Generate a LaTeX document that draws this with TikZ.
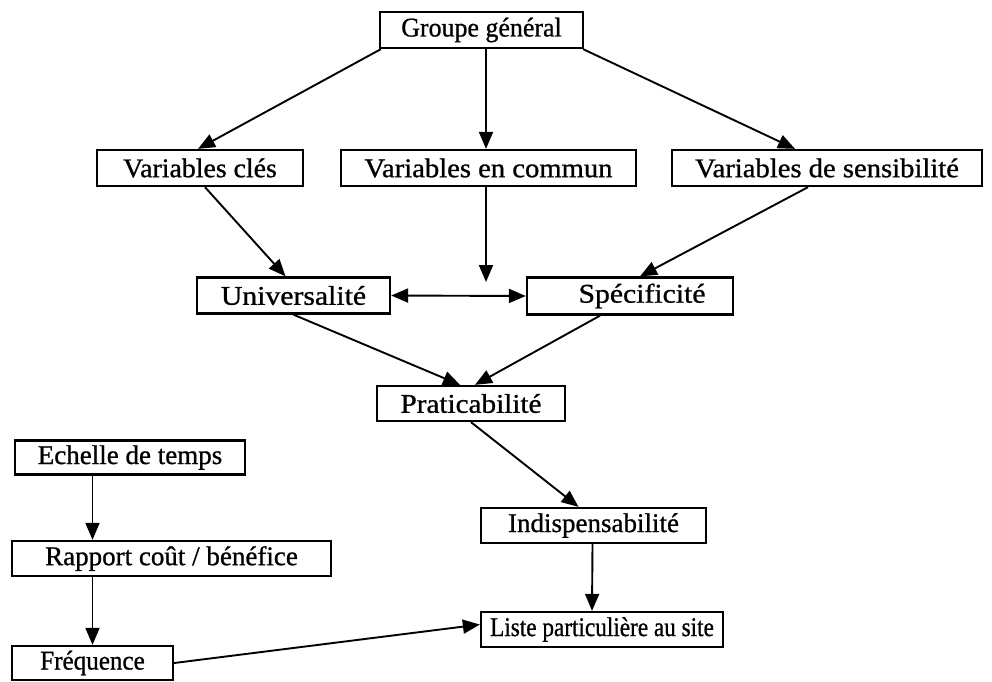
\documentclass[tikz,border=0pt]{standalone}
\usepackage{fontspec}
\setmainfont{Liberation Serif}[FakeBold=0.9]
\usetikzlibrary{arrows.meta}
% horizontal squeeze or stretch of a label
\newcommand{\hsq}[2]{\scalebox{#1}[1]{#2}}
\begin{document}
\begin{tikzpicture}[x=1pt,y=-1pt,
  box/.style={draw, line width=2.3pt, rectangle, inner sep=0pt,
    font=\fontsize{27}{30}\selectfont},
  tip/.tip={Triangle[length=17pt,width=14pt]},
  link/.style={line width=1.9pt, -tip},
  twoway/.style={line width=1.9pt, tip-tip}]
\useasboundingbox (0,0) rectangle (992,681);

% boxes: centre, width, height
\node[box, minimum width=203pt, minimum height=36pt] (g)   at (481.5,30)  {\hsq{0.96}{Groupe général}};
\node[box, minimum width=206pt, minimum height=36pt] (vc)  at (200,168)   {\hsq{1.03}{Variables clés}};
\node[box, minimum width=295pt, minimum height=36pt] (vm)  at (488.5,168) {\hsq{1.06}{Variables en commun}};
\node[box, minimum width=310pt, minimum height=36pt] (vs)  at (827,168)   {\hsq{1.06}{Variables de sensibilité}};
\node[box, minimum width=193pt, minimum height=36pt] (u)   at (293.5,295.5) {\hsq{1.1}{Universalité}};
\node[box, minimum width=206pt, minimum height=37pt] (s)   at (630,296)   {\hspace*{24pt}\hsq{1.1}{Spécificité}};
\node[box, minimum width=188pt, minimum height=35pt] (p)   at (471,403.5) {\hsq{1.08}{Praticabilité}};
\node[box, minimum width=230pt, minimum height=34pt] (e)   at (130,457.5) {Echelle de temps};
\node[box, minimum width=319pt, minimum height=35pt] (r)   at (171.5,558.5) {Rapport coût / bénéfice};
\node[box, minimum width=225pt, minimum height=35pt] (ind) at (593.5,525.5) {Indispensabilité};
\node[box, minimum width=242pt, minimum height=35pt] (l)   at (602,629.5) {\hsq{0.86}{Liste particulière au site}};
\node[box, minimum width=161pt, minimum height=34pt] (f)   at (92.5,663)  {\hsq{0.93}{Fréquence}};

% meeting point of the two middle branches
\coordinate (jt) at (486,282);

% connectors
\draw[link] ([xshift=2pt]g.south west) -- ([xshift=-2pt]vc.north);
\draw[link] ([xshift=4.5pt]g.south) -- ([xshift=-2.5pt]vm.north);
\draw[link] ([xshift=-1pt]g.south east) -- ([xshift=-32pt]vs.north);
\draw[link] ([xshift=5pt]vc.south) -- ([xshift=-8pt]u.north);
\draw[link] (vm.south -| jt) -- (jt);
\draw[twoway] (u.east) -- (s.west);
\draw[link] ([xshift=-19pt]vs.south) -- ([xshift=10pt]s.north);
\draw[link] (u.south) -- ([xshift=-11pt]p.north);
\draw[link] ([xshift=-30pt]s.south) -- ([xshift=4pt]p.north);
\draw[link] (p.south) -- ([xshift=-15pt]ind.north);
\draw[link] ([xshift=-1pt]ind.south) -- ([xshift=-10pt]l.north);
\draw[link] (e.south -| f.north) -- (r.north -| f.north);
\draw[link] (r.south -| f.north) -- (f.north);
\draw[link] (f.east) -- ([yshift=5pt]l.west);
\end{tikzpicture}
\end{document}
